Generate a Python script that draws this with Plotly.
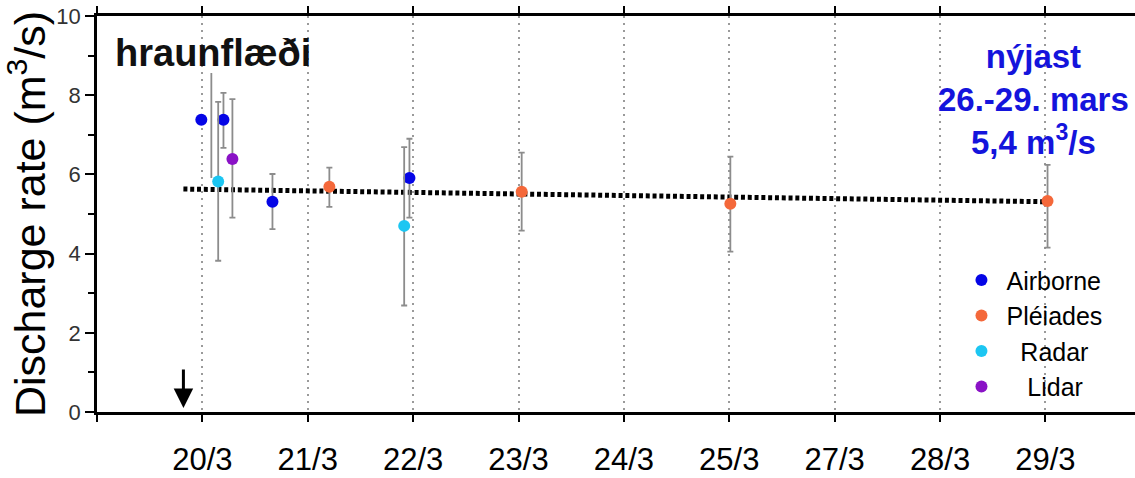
import plotly.graph_objects as go

# ---- data (x = position index on the day axis, 0 = 20/3 ... 8 = 29/3) ----
tick_pos = [-1, 0, 1, 2, 3, 4, 5, 6, 7, 8]
tick_labels = ["", "20/3", "21/3", "22/3", "23/3", "24/3", "25/3", "27/3", "28/3", "29/3"]

airborne_x = [-0.01, 0.20, 0.665, 1.965]
airborne_y = [7.38, 7.38, 5.31, 5.91]
airborne_hi = [7.38, 8.06, 6.01, 6.90]
airborne_lo = [7.38, 6.67, 4.62, 4.91]

pleiades_x = [1.205, 3.03, 5.01, 8.02]
pleiades_y = [5.69, 5.56, 5.26, 5.33]
pleiades_hi = [6.17, 6.55, 6.45, 6.24]
pleiades_lo = [5.18, 4.58, 4.05, 4.15]

radar_x = [0.15, 1.915]
radar_y = [5.82, 4.70]
radar_hi = [7.83, 6.69]
radar_lo = [3.82, 2.69]

lidar_x = [0.285]
lidar_y = [6.39]
lidar_hi = [7.90]
lidar_lo = [4.91]

extra_bar_x = [0.085, 0.085]
extra_bar_y = [5.91, 8.56]

trend_x = [-0.18, 8.0]
trend_y = [5.63, 5.31]

arrow_x = -0.18
arrow_y = 0.1

series = [
    ("Airborne", airborne_x, airborne_y, airborne_hi, airborne_lo, "#0505e6", ""),
    ("Pléiades", pleiades_x, pleiades_y, pleiades_hi, pleiades_lo, "#f4683a", ""),
    ("Radar", radar_x, radar_y, radar_hi, radar_lo, "#1cc6f2", "\u00a0\u00a0"),
    ("Lidar", lidar_x, lidar_y, lidar_hi, lidar_lo, "#8a12c6", "\u00a0\u00a0\u00a0"),
]

fig = go.Figure()

# trend line (dotted)
fig.add_trace(go.Scatter(
    x=trend_x, y=trend_y, mode="lines", showlegend=False, hoverinfo="skip",
    line=dict(color="black", width=5, dash="4px,2.8px"),
))

# extra vertical error line
fig.add_trace(go.Scatter(
    x=extra_bar_x, y=extra_bar_y, mode="lines", showlegend=False, hoverinfo="skip",
    line=dict(color="#8c8c8c", width=1.8),
))

for name, xs, ys, hi, lo, col, pad in series:
    up = [h - y for h, y in zip(hi, ys)]
    dn = [y - l for l, y in zip(lo, ys)]
    fig.add_trace(go.Scatter(
        x=xs, y=ys, mode="markers", name=pad + name,
        marker=dict(color=col, size=12),
        error_y=dict(type="data", symmetric=False, array=up, arrayminus=dn,
                     color="#8c8c8c", thickness=1.8, width=3),
    ))

fig.add_annotation(
    x=arrow_x, y=arrow_y, xref="x", yref="y", ax=0, ay=-40,
    showarrow=True, arrowhead=2, arrowsize=1.3, arrowwidth=3, arrowcolor="black", text="",
)

fig.add_annotation(
    x=0.0154, y=0.907, xref="paper", yref="paper", xanchor="left", yanchor="middle",
    text="<b>hraunflæði</b>", showarrow=False,
    font=dict(family="Liberation Sans, Arial, sans-serif", size=38, color="#111"),
)

fig.add_annotation(
    x=0.902, y=0.79, xref="paper", yref="paper", xanchor="center", yanchor="middle",
    text="<b>nýjast<br>26.-29. mars<br>5,4 m<sup>3</sup>/s</b>", showarrow=False, align="center",
    font=dict(family="Liberation Sans, Arial, sans-serif", size=33, color="#1414dc"),
)

fig.update_layout(
    width=1135, height=478,
    margin=dict(l=97, r=0, t=16, b=66),
    plot_bgcolor="white", paper_bgcolor="white",
    font=dict(family="Liberation Sans, Arial, sans-serif", color="black"),
    showlegend=True,
    legend=dict(
        x=0.828, y=0.391, xanchor="left", yanchor="top",
        bgcolor="rgba(0,0,0,0)", font=dict(size=25, color="black"),
        itemwidth=40, tracegroupgap=0,
    ),
    xaxis=dict(
        range=[-1, 8.85], tickmode="array", tickvals=tick_pos, ticktext=tick_labels,
        showline=True, linecolor="black", linewidth=2.5, mirror="ticks",
        ticks="outside", ticklen=7, tickwidth=2, tickcolor="black",
        showgrid=True, gridcolor="#9a9a9a", gridwidth=2, griddash="2px,5px",
        zeroline=False, ticklabelstandoff=11,
        tickfont=dict(size=31, color="black"),
    ),
    yaxis=dict(
        range=[0, 10], tickvals=[0, 2, 4, 6, 8, 10],
        showline=True, linecolor="black", linewidth=2.5, mirror=False,
        ticks="outside", ticklen=9, tickwidth=2, tickcolor="black",
        minor=dict(tickvals=[1, 3, 5, 7, 9], ticks="outside", ticklen=6, tickwidth=2, tickcolor="black"),
        showgrid=False, zeroline=False,
        tickfont=dict(size=22, color="#333"),
        title=dict(text="Discharge rate (m<sup>3</sup>/s)", font=dict(size=43, color="black"), standoff=4),
    ),
)

fig.write_html(
    "out.html",
    config={"displayModeBar": False},
    post_script="document.body.style.margin='0px';document.body.style.overflow='hidden';",
)
